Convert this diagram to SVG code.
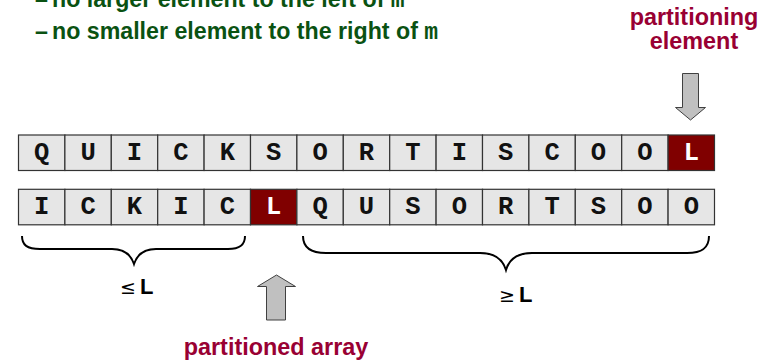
<svg xmlns="http://www.w3.org/2000/svg" width="774" height="362" viewBox="0 0 774 362">
<style>
.g{font-family:"Liberation Sans",Arial,sans-serif;font-weight:bold;font-size:23.2px;fill:#0a5212}
.gm{font-family:"Liberation Mono","Courier New",monospace;font-weight:bold;font-size:23px;fill:#0a5212}
.r{font-family:"Liberation Sans",Arial,sans-serif;font-weight:bold;font-size:23.4px;fill:#990033;text-anchor:middle}
.cell{fill:#e6e6e6;stroke:#333;stroke-width:1.2}
.red{fill:#800000;stroke:#333;stroke-width:1.2}
.ch{font-family:"Liberation Mono","Courier New",monospace;font-weight:bold;font-size:25.5px;fill:#111;text-anchor:middle}
.chw{fill:#fff}
.arrow{fill:#c0c0c0;stroke:#404040;stroke-width:1}
.brace{fill:none;stroke:#000;stroke-width:2}
.lbl{font-family:"Liberation Sans",Arial,sans-serif;font-weight:bold;font-size:22px;fill:#000}
.sym{font-family:"DejaVu Sans","Liberation Sans",sans-serif;font-size:19px;fill:#000}
</style>
<rect width="774" height="362" fill="#fff"/>
<g id="text-top">
<text class="g" x="35" y="7">–</text><text class="g" x="52" y="7">no larger element to the left of <tspan class="gm">m</tspan></text>
<text class="g" x="35" y="38.5">–</text><text class="g" x="52" y="38.5">no smaller element to the right of <tspan class="gm">m</tspan></text>
</g>
<g id="label-partitioning-element">
<text class="r" x="694" y="25">partitioning</text>
<text class="r" x="694" y="49">element</text>
</g>
<g id="arrow-down">
<path class="arrow" d="M682.5,73.5 H698.5 V107.5 H705.5 L690.5,120 L675.5,107.5 H682.5 Z"/>
</g>
<g id="row1">
<rect class="cell" x="18.5" y="135" width="46.4" height="35.5"/>
<rect class="cell" x="64.9" y="135" width="46.4" height="35.5"/>
<rect class="cell" x="111.3" y="135" width="46.4" height="35.5"/>
<rect class="cell" x="157.7" y="135" width="46.4" height="35.5"/>
<rect class="cell" x="204.1" y="135" width="46.4" height="35.5"/>
<rect class="cell" x="250.5" y="135" width="46.4" height="35.5"/>
<rect class="cell" x="296.9" y="135" width="46.4" height="35.5"/>
<rect class="cell" x="343.3" y="135" width="46.4" height="35.5"/>
<rect class="cell" x="389.7" y="135" width="46.4" height="35.5"/>
<rect class="cell" x="436.1" y="135" width="46.4" height="35.5"/>
<rect class="cell" x="482.5" y="135" width="46.4" height="35.5"/>
<rect class="cell" x="528.9" y="135" width="46.4" height="35.5"/>
<rect class="cell" x="575.3" y="135" width="46.4" height="35.5"/>
<rect class="cell" x="621.7" y="135" width="46.4" height="35.5"/>
<rect class="red" x="668.1" y="135" width="46.4" height="35.5"/>
<text class="ch" y="160"><tspan x="41.7">Q</tspan><tspan x="88.1">U</tspan><tspan x="134.5">I</tspan><tspan x="180.9">C</tspan><tspan x="227.3">K</tspan><tspan x="273.7">S</tspan><tspan x="320.1">O</tspan><tspan x="366.5">R</tspan><tspan x="412.9">T</tspan><tspan x="459.3">I</tspan><tspan x="505.7">S</tspan><tspan x="552.1">C</tspan><tspan x="598.5">O</tspan><tspan x="644.9">O</tspan><tspan x="691.3" class="chw">L</tspan></text>
</g>
<g id="row2">
<rect class="cell" x="18.5" y="189.3" width="46.4" height="35.5"/>
<rect class="cell" x="64.9" y="189.3" width="46.4" height="35.5"/>
<rect class="cell" x="111.3" y="189.3" width="46.4" height="35.5"/>
<rect class="cell" x="157.7" y="189.3" width="46.4" height="35.5"/>
<rect class="cell" x="204.1" y="189.3" width="46.4" height="35.5"/>
<rect class="red" x="250.5" y="189.3" width="46.4" height="35.5"/>
<rect class="cell" x="296.9" y="189.3" width="46.4" height="35.5"/>
<rect class="cell" x="343.3" y="189.3" width="46.4" height="35.5"/>
<rect class="cell" x="389.7" y="189.3" width="46.4" height="35.5"/>
<rect class="cell" x="436.1" y="189.3" width="46.4" height="35.5"/>
<rect class="cell" x="482.5" y="189.3" width="46.4" height="35.5"/>
<rect class="cell" x="528.9" y="189.3" width="46.4" height="35.5"/>
<rect class="cell" x="575.3" y="189.3" width="46.4" height="35.5"/>
<rect class="cell" x="621.7" y="189.3" width="46.4" height="35.5"/>
<rect class="cell" x="668.1" y="189.3" width="46.4" height="35.5"/>
<text class="ch" y="214.3"><tspan x="41.7">I</tspan><tspan x="88.1">C</tspan><tspan x="134.5">K</tspan><tspan x="180.9">I</tspan><tspan x="227.3">C</tspan><tspan x="273.7" class="chw">L</tspan><tspan x="320.1">Q</tspan><tspan x="366.5">U</tspan><tspan x="412.9">S</tspan><tspan x="459.3">O</tspan><tspan x="505.7">R</tspan><tspan x="552.1">T</tspan><tspan x="598.5">S</tspan><tspan x="644.9">O</tspan><tspan x="691.3">O</tspan></text>
</g>
<g id="brace-left">
<path class="brace" d="M22,236 C22,245 27,249 40,249 L112,249 C125,249 131,255 134,264 C137,255 143,249 156,249 L228,249 C240,249 245,245 245,236"/>
<text x="120" y="294"><tspan class="sym">≤</tspan><tspan class="lbl" dx="4">L</tspan></text>
</g>
<g id="brace-right">
<path class="brace" d="M303,236 C303,248 311,253 326,253 L480,253 C495,253 503,260 506,270 C509,260 517,253 532,253 L687,253 C702,253 709,248 709,236"/>
<text x="499" y="302"><tspan class="sym">≥</tspan><tspan class="lbl" dx="4">L</tspan></text>
</g>
<g id="arrow-up">
<path class="arrow" d="M266.5,320 H285.5 V286.5 H295.5 L276.5,275 L257.5,286.5 H266.5 Z"/>
</g>
<g id="label-partitioned-array">
<text class="r" x="276" y="355">partitioned array</text>
</g>
</svg>
